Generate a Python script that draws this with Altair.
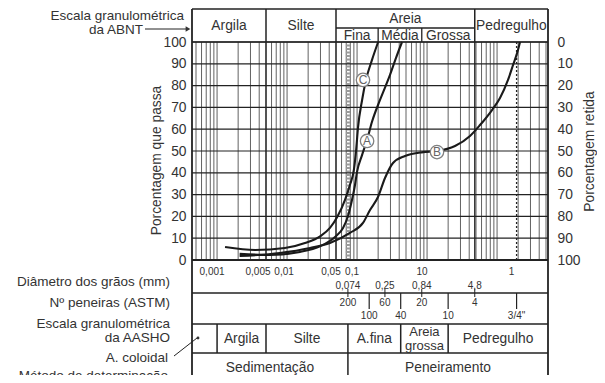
import altair as alt
import numpy as np
import pandas as pd

# ---------------- data ----------------
curve_a_d = [0.0021, 0.0057, 0.0153, 0.030, 0.0484, 0.063, 0.0742, 0.0846, 0.0934, 0.0998,
             0.118, 0.1386, 0.163, 0.2126, 0.2954, 0.36, 0.4384]
curve_a_p = [2.8, 2.3, 3.7, 6.4, 10.6, 14.7, 20.2, 27.5, 34.4, 40.4, 48.2, 55.0, 63.3, 73.4,
             84.9, 92.7, 100]
curve_b_d = [0.0021, 0.0079, 0.0213, 0.041, 0.079, 0.1215, 0.153, 0.199, 0.2506, 0.3261,
             0.4839, 0.8746, 1.386, 2.506, 4.106, 5.705, 8.465, 11.01, 14.33, 16.89, 19.9, 21.27]
curve_b_p = [1.8, 3.2, 5.5, 7.8, 12.4, 17.0, 22.9, 28.9, 37.6, 44.5, 47.7, 49.5, 50.0, 52.3,
             56.9, 61.9, 68.8, 74.3, 82.6, 89.4, 96.3, 100]
curve_c_d = [0.0013, 0.0035, 0.0093, 0.018, 0.030, 0.041, 0.052, 0.067, 0.079, 0.090, 0.097,
             0.103, 0.118, 0.134, 0.163, 0.20]
curve_c_p = [6.0, 4.6, 5.5, 7.8, 11.0, 14.7, 19.7, 27.5, 34.4, 41.3, 50.5, 60.6, 73.4, 82.6,
             91.7, 100]
curve_names = ["A", "B", "C"]
label_d = [0.139, 1.386, 0.1215]
label_p = [54.6, 49.5, 82.6]

abnt_bounds = [0.005, 0.05, 4.8]
abnt_names = ["Argila", "Silte", "Areia", "Pedregulho"]
areia_bounds = [0.05, 0.2, 0.84, 4.8]
areia_names = ["Fina", "Média", "Grossa"]
aasho_bounds = [0.001, 0.005, 0.074, 0.42, 2.0]
aasho_names = ["", "Argila", "Silte", "A.fina", "Areia\ngrossa", "Pedregulho"]
method_bounds = [0.074]
method_names = ["Sedimentação", "Peneiramento"]
diam1_d = [0.001, 0.005, 0.01, 0.05, 0.1, 1, 19]
diam1_t = ["0,001", "0,005", "0,01", "0,05", "0,1", "10", "1"]
diam2_d = [0.074, 0.25, 0.84, 4.8]
diam2_t = ["0,074", "0,25", "0,84", "4,8"]
sieve_up_d = [0.074, 0.25, 0.84, 4.8]
sieve_up_t = ["200", "60", "20", "4"]
sieve_lo_d = [0.149, 0.42, 2.0, 19.0]
sieve_lo_t = ["100", "40", "10", "3/4\""]
dotted_d = [0.074, 19.0]
y_ticks = list(range(0, 101, 10))
left_texts = ["Diâmetro dos grãos (mm)", "Nº peneiras (ASTM)", "Escala granulométrica",
              "da AASHO", "A. coloidal", "Método de determinação"]
top_texts = ["Escala granulométrica", "da ABNT"]

# ---------------- layout ----------------
FONT = "Liberation Sans"
TXT = "#333333"
LINE = "#222222"
FS = 13.8
PLOT_L, PLOT_R, TOP = 192, 548, 9
W = PLOT_R - PLOT_L
H = 366
Y_P0, Y_P100 = 260, 42
PX_DEC, REF_D, REF_X = 70.0, 0.05, 336


def d_at(px):
    return 10 ** (np.log10(REF_D) + (px - REF_X) / PX_DEC)


def u_at(py):
    return (Y_P0 - py) * 100.0 / (Y_P0 - Y_P100)


def shift(d, px):
    return d * 10 ** (px / PX_DEC)


XMIN, XMAX = d_at(PLOT_L), d_at(PLOT_R)
YMAX, YMIN = u_at(TOP), u_at(TOP + H)
xs = alt.Scale(type="log", domain=[XMIN, XMAX], nice=False)
ys = alt.Scale(domain=[YMIN, YMAX], nice=False, zero=False)


def X(f="d"):
    return alt.X(f"{f}:Q", scale=xs, axis=None)


def Y(f="y"):
    return alt.Y(f"{f}:Q", scale=ys, axis=None)


def gm(a, b):
    return float(np.sqrt(a * b))


# vertical log grid
grid_d = [k * 10.0 ** n for n in range(-4, 2) for k in range(1, 10)
          if XMIN < k * 10.0 ** n < XMAX]
grid_df = pd.DataFrame({"d": grid_d, "y": 0.0, "y2": 100.0})
grid = alt.Chart(grid_df).mark_rule(color="#505050", strokeWidth=0.9).encode(
    x=X(), y=Y(), y2="y2:Q")

dot_df = pd.DataFrame({"d": dotted_d, "y": 0.0, "y2": 100.0, "k": ["band", "line"]})
band = alt.Chart(dot_df[dot_df.k == "band"]).mark_rule(
    color="#9a9a9a", strokeWidth=4, strokeDash=[2, 1.5]).encode(x=X(), y=Y(), y2="y2:Q")
dline = alt.Chart(dot_df[dot_df.k == "line"]).mark_rule(
    color=LINE, strokeWidth=1.3, strokeDash=[2, 2]).encode(x=X(), y=Y(), y2="y2:Q")

# table lines
rows = []


def hline(py, d0=XMIN, d1=XMAX, w=1.5):
    rows.append(dict(d=d0, d2=d1, y=u_at(py), y2=u_at(py), w=w))


def vline(d, py0, py1, w=1.5):
    rows.append(dict(d=d, d2=d, y=u_at(py0), y2=u_at(py1), w=w))


BOT = TOP + H + 10
for p in y_ticks:  # horizontal percentage grid
    rows.append(dict(d=XMIN, d2=XMAX, y=float(p), y2=float(p), w=1.2))
hline(TOP); hline(Y_P100); hline(28, areia_bounds[0], areia_bounds[-1], 1.3)
for b in abnt_bounds:
    vline(b, TOP, Y_P100)
    vline(b, Y_P100, Y_P0, 1.3)
for b in areia_bounds[1:-1]:
    vline(b, 28, Y_P100, 1.3)
hline(Y_P0, w=1.8); hline(293); hline(324); hline(353)
for b in aasho_bounds:
    vline(b, 324, 353)
for b in method_bounds:
    vline(b, 353, BOT)
vline(XMIN, TOP, BOT, 1.8); vline(XMAX, TOP, BOT, 1.8)
for d in diam2_d:
    vline(d, 289, 293, 1)
for d in sieve_up_d:
    vline(d, 293, 297, 1)
for d in sieve_lo_d:
    vline(d, 293, 309, 1.2)
# annotation segments (arrow to ABNT scale, leader to colloid cell)
rows.append(dict(d=d_at(145), d2=d_at(187), y=u_at(29), y2=u_at(29), w=1))
rows.append(dict(d=d_at(174), d2=d_at(197), y=u_at(356), y2=u_at(338), w=1))
lines_df = pd.DataFrame(rows)
table = alt.Chart(lines_df).mark_rule(color=LINE).encode(
    x=X(), x2="d2:Q", y=Y(), y2="y2:Q", strokeWidth=alt.StrokeWidth("w:Q", scale=None, legend=None))

# curves
curve_df = pd.concat([
    pd.DataFrame({"s": "A", "d": curve_a_d, "y": curve_a_p}),
    pd.DataFrame({"s": "B", "d": curve_b_d, "y": curve_b_p}),
    pd.DataFrame({"s": "C", "d": curve_c_d, "y": curve_c_p}),
])
curves = alt.Chart(curve_df).mark_line(color="#1a1a1a", strokeWidth=2.1, interpolate="monotone").encode(
    x=X(), y=Y(), detail="s:N")

lab_df = pd.DataFrame({"s": curve_names, "d": label_d, "y": label_p})
circ = alt.Chart(lab_df).mark_point(shape="circle", size=180, fill="white", fillOpacity=1,
                                    stroke="#808080", strokeWidth=1.3, opacity=1).encode(x=X(), y=Y())
letters = alt.Chart(lab_df).mark_text(font=FONT, fontSize=12, color="#666666").encode(
    x=X(), y=Y(), text="s:N")

# cell texts
cells = []
ab = [XMIN] + abnt_bounds + [XMAX]
for i, n in enumerate(abnt_names):
    cells.append(dict(d=gm(ab[i], ab[i + 1]), y=u_at(19 if n == "Areia" else 26), t=n))
for i, n in enumerate(areia_names):
    cells.append(dict(d=gm(areia_bounds[i], areia_bounds[i + 1]), y=u_at(36), t=n))
aa = [XMIN] + aasho_bounds + [XMAX]
for i, n in enumerate(aasho_names):
    if n and "\n" not in n:
        cells.append(dict(d=gm(aa[i], aa[i + 1]), y=u_at(338.5), t=n))
mb = [XMIN] + method_bounds + [XMAX]
for i, n in enumerate(method_names):
    cells.append(dict(d=gm(mb[i], mb[i + 1]), y=u_at(368), t=n))
cell_df = pd.DataFrame(cells)
cell_text = alt.Chart(cell_df).mark_text(font=FONT, fontSize=FS, color=TXT, baseline="middle"
                                         ).encode(x=X(), y=Y(), text="t:N")
two = []
for i, n in enumerate(aasho_names):
    if "\n" in n:
        for j, part in enumerate(n.split("\n")):
            two.append(dict(d=gm(aa[i], aa[i + 1]), y=u_at(332 + 13.5 * j), t=part))
two_text = alt.Chart(pd.DataFrame(two)).mark_text(font=FONT, fontSize=13, color=TXT,
                                                  baseline="middle").encode(x=X(), y=Y(), text="t:N")

small_off = {"0,005": -3, "0,01": 2}
small = []
for d, t in zip(diam1_d, diam1_t):
    small.append(dict(d=shift(d, -5 + small_off.get(t, 0)), y=u_at(272), t=t))
for d, t in zip(diam2_d, diam2_t):
    small.append(dict(d=d, y=u_at(286), t=t))
for d, t in zip(sieve_up_d, sieve_up_t):
    small.append(dict(d=d, y=u_at(303), t=t))
for d, t in zip(sieve_lo_d, sieve_lo_t):
    small.append(dict(d=d, y=u_at(316), t=t))
small_df = pd.DataFrame(small)
small_text = alt.Chart(small_df).mark_text(
    font=FONT, fontSize=10, color=TXT, baseline="middle").encode(x=X(), y=Y(), text="t:N")

# annotation texts outside the grid (page positions converted through the scales)
ann_px = [184, 143, 170, 170, 170, 170, 168, 168]
ann_py = [15.5, 29.5, 282, 303, 324, 338, 358, 375.5]
ann_df = pd.DataFrame({"t": top_texts + left_texts,
                       "d": [d_at(p) for p in ann_px], "y": [u_at(p) for p in ann_py]})
ann = alt.Chart(ann_df).mark_text(font=FONT, fontSize=13.5, color=TXT, align="right",
                                  baseline="middle").encode(x=X(), y=Y(), text="t:N")
head_df = pd.DataFrame({"d": [d_at(188)], "y": [u_at(29)]})
head = alt.Chart(head_df).mark_point(shape="triangle-right", filled=True, size=30, color=TXT,
                                     opacity=1).encode(x=X(), y=Y())
dot_df2 = pd.DataFrame({"d": [d_at(198)], "y": [u_at(338)]})
dot_pt = alt.Chart(dot_df2).mark_point(shape="circle", filled=True, size=8, color=TXT,
                                       opacity=1).encode(x=X(), y=Y())

main = alt.layer(grid, band, dline, table, curves, circ, letters, cell_text, two_text, small_text,
                 ann, head, dot_pt)

axis_df = pd.DataFrame({"y": [0, 100]})
left = alt.Chart(axis_df).mark_point(opacity=0).encode(
    y=alt.Y("y:Q", scale=ys, axis=alt.Axis(
        orient="left", values=y_ticks, grid=False, domain=False, ticks=False, labelPadding=6,
        labelFontSize=FS, labelColor=TXT, labelFont=FONT,
        title="Porcentagem que passa", titleFontSize=FS, titleFontWeight="normal",
        titleColor=TXT, titleFont=FONT, titleX=-36, titleY=151, titleAngle=270,
        titleBaseline="middle", titleAlign="center")))

right = alt.Chart(axis_df).mark_point(opacity=0).encode(
    y=alt.Y("y:Q", scale=ys, axis=alt.Axis(
        orient="right", values=y_ticks, labelExpr="100 - datum.value", grid=False, domain=False,
        ticks=False, labelPadding=9, labelFontSize=FS, labelColor=TXT, labelFont=FONT,
        title="Porcentagem retida", titleFontSize=FS, titleFontWeight="normal", titleColor=TXT,
        titleFont=FONT, titleAngle=270, titleX=41, titleY=142, titleBaseline="middle",
        titleAlign="center")))

chart = alt.layer(main, left, right).resolve_scale(y="independent").properties(
    width=W, height=H,
    padding={"left": 184, "top": 1, "right": 49, "bottom": 0},
    autosize=alt.AutoSizeParams(type="none"),
    background="white",
).configure_view(stroke=None)

chart.save("out.html", embed_options={"renderer": "svg", "actions": False})
